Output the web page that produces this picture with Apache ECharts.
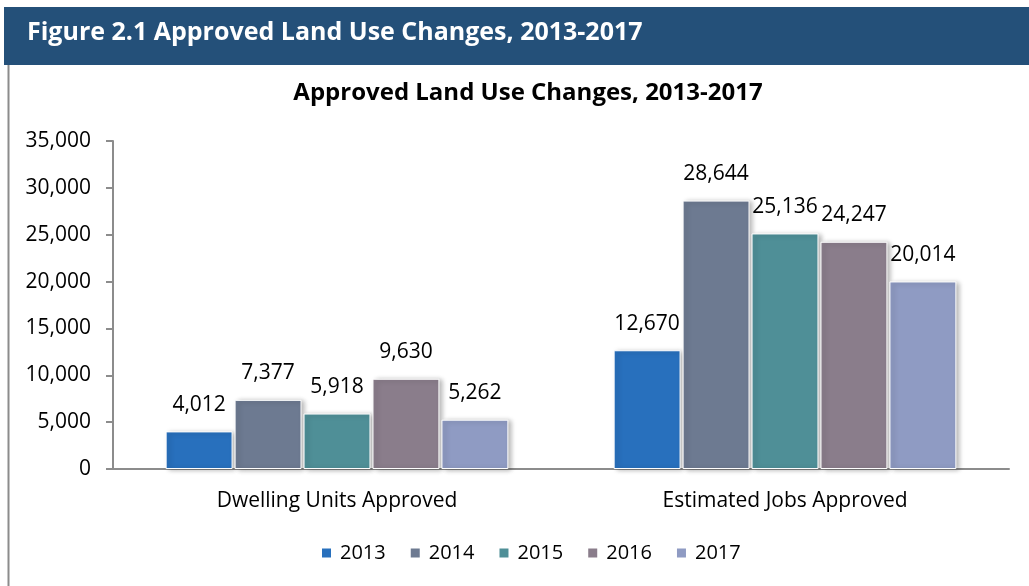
<!DOCTYPE html>
<html><head><meta charset="utf-8">
<script src="https://cdn.jsdelivr.net/npm/echarts@6/dist/echarts.min.js"></script>
<style>html,body{margin:0;padding:0;background:#fff}#c{width:1029px;height:586px}</style>
</head><body><div id="c"></div>
<script>
const categories = ['Dwelling Units Approved', 'Estimated Jobs Approved'];
const years = ['2013', '2014', '2015', '2016', '2017'];
const v2013 = [4012, 12670];
const v2014 = [7377, 28644];
const v2015 = [5918, 25136];
const v2016 = [9630, 24247];
const v2017 = [5262, 20014];
const yTicks = [0, 5000, 10000, 15000, 20000, 25000, 30000, 35000];

const colors = ['#2870bd', '#6d7a91', '#4f8f97', '#8a7d8b', '#8f9bc3'];
const seriesValues = [v2013, v2014, v2015, v2016, v2017];
const FONT = 'Open Sans';

const chart = echarts.init(document.getElementById('c'));
chart.setOption({
  animation: false,
  textStyle: { fontFamily: FONT },
  graphic: [
    { type: 'rect', shape: { x: 4, y: 7, width: 1025, height: 58 }, style: { fill: '#245079' } },
    { type: 'text', left: 27, top: 20, style: { text: 'Figure 2.1 Approved Land Use Changes, 2013-2017', fill: '#fff', font: 'bold 25px "Open Sans"' } },
    { type: 'line', shape: { x1: 8.5, y1: 65, x2: 8.5, y2: 586 }, style: { stroke: '#8c8c8c', lineWidth: 2 } }
  ],
  title: {
    text: 'Approved Land Use Changes, 2013-2017',
    left: 523, textAlign: 'center', top: 76,
    textStyle: { fontFamily: FONT, fontWeight: 'bold', fontSize: 24, color: '#000' }
  },
  legend: {
    bottom: 18, left: 315,
    itemWidth: 11, itemHeight: 11, itemGap: 23,
    icon: 'rect',
    textStyle: { fontFamily: FONT, fontSize: 20, color: '#000', padding: [0, 0, 0, 3] },
    data: years
  },
  grid: { left: 113, right: 20, top: 141, bottom: 117 },
  xAxis: {
    type: 'category', data: categories,
    axisLine: { lineStyle: { color: '#8c8c8c', width: 2 } },
    axisTick: { length: 48, lineStyle: { color: '#8c8c8c', width: 2 } },
    axisLabel: { fontFamily: FONT, fontSize: 21, color: '#000', margin: 22 }
  },
  yAxis: {
    type: 'value', min: 0, max: 35000, interval: 5000,
    axisLine: { show: true, lineStyle: { color: '#8c8c8c', width: 2 } },
    axisTick: { show: true, length: 7, lineStyle: { color: '#8c8c8c', width: 2 } },
    splitLine: { show: false },
    axisLabel: {
      fontFamily: FONT, fontSize: 21, color: '#000', margin: 22,
      formatter: v => yTicks.includes(v) ? v.toLocaleString('en-US') : ''
    }
  },
  series: years.map((y, i) => ({
    name: y, type: 'bar', data: seriesValues[i],
    barGap: '3%', barCategoryGap: '23.5%',
    itemStyle: {
      color: colors[i], borderColor: '#fff', borderWidth: 1,
      shadowBlur: 5, shadowColor: 'rgba(0,0,0,0.3)', shadowOffsetX: 3, shadowOffsetY: 1
    },
    label: {
      show: true, position: 'top', distance: 16,
      fontFamily: FONT, fontSize: 21, color: '#000',
      formatter: p => p.value.toLocaleString('en-US')
    }
  }))
});
</script></body></html>
